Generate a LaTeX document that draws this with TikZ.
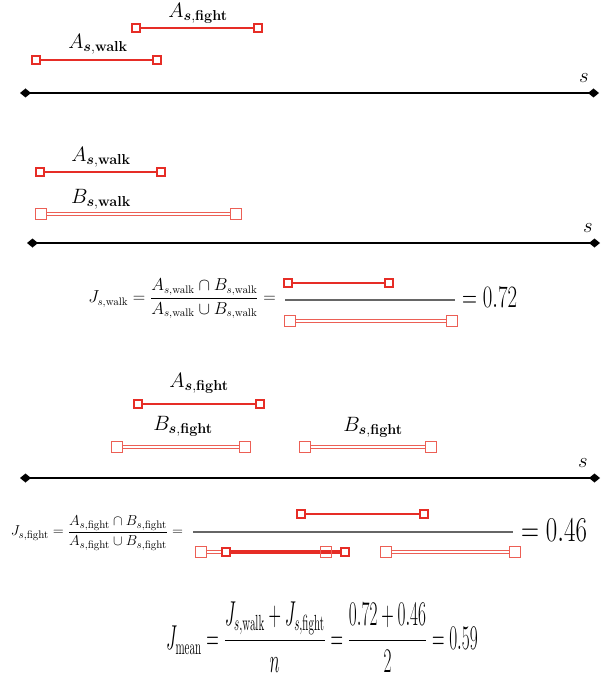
\documentclass[tikz,border=0pt]{standalone}
\usepackage{amsmath}
\usetikzlibrary{arrows.meta}
\definecolor{segred}{RGB}{230,45,38}
\definecolor{bred}{RGB}{236,95,85}
\newcommand{\lab}[2]{$#1_{\boldsymbol{s},\mathbf{#2}}$}
\tikzset{
  asq/.style={rectangle, draw=segred, fill=white, line width=1.8pt, minimum size=8.5pt, inner sep=0pt},
  bsq/.style={rectangle, draw=bred, fill=white, line width=1pt, minimum size=11pt, inner sep=0pt},
  aseg/.style={draw=segred, line width=2pt},
  aunion/.style={draw=segred, line width=3.2pt},
  bseg/.style={draw=bred, line width=1pt, double=white, double distance=2.2pt},
  axisline/.style={draw=black, line width=2.2pt, {Diamond[length=11pt,width=9pt]}-{Diamond[length=11pt,width=9pt]}},
  fracline/.style={draw=black!60, line width=1.2pt},
  lbl/.style={inner sep=0pt, font=\fontsize{22.5}{26}\selectfont},
  slbl/.style={inner sep=0pt, font=\fontsize{22}{24}\selectfont},
  fm/.style={inner sep=0pt, font=\fontsize{16}{19}\selectfont},
  bigeq/.style={inner sep=0pt, anchor=base west},
}
\begin{document}
\begin{tikzpicture}[x=1pt,y=-1pt]
\useasboundingbox (0,0) rectangle (603,687);
% ---------- panel 1
\node[lbl] (lAf1) at (198,13.5) {\lab{A}{fight}};
\node[asq] (af1a) at (136,28) {};
\node[asq] (af1b) at (258,28) {};
\draw[aseg] (af1a) -- (af1b);
\node[lbl] (lAw1) at (98,44) {\lab{A}{walk}};
\node[asq] (aw1a) at (36,60) {};
\node[asq] (aw1b) at (157,60) {};
\draw[aseg] (aw1a) -- (aw1b);
\coordinate (ax1l) at (20,93);
\coordinate (ax1r) at (599,93);
\draw[axisline] (ax1l) -- (ax1r);
\node[slbl] (s1) at (584,78) {$s$};
% ---------- panel 2
\node[lbl] (lAw2) at (101,157) {\lab{A}{walk}};
\node[asq] (aw2a) at (40,172) {};
\node[asq] (aw2b) at (161,172) {};
\draw[aseg] (aw2a) -- (aw2b);
\node[lbl] (lBw2) at (101,199) {\lab{B}{walk}};
\node[bsq] (bw2a) at (41,214) {};
\node[bsq] (bw2b) at (236,214) {};
\draw[bseg] (bw2a) -- (bw2b);
\coordinate (ax2l) at (27,243);
\coordinate (ax2r) at (600,243);
\draw[axisline] (ax2l) -- (ax2r);
\node[slbl] (s2) at (588,228) {$s$};
% ---------- formula 1
\node[fm] (fm1) at (182,299) {$J_{s,\mathrm{walk}} = \dfrac{A_{s,\mathrm{walk}} \cap B_{s,\mathrm{walk}}}{A_{s,\mathrm{walk}} \cup B_{s,\mathrm{walk}}} =$};
\node[asq] (f1aa) at (288,283) {};
\node[asq] (f1ab) at (389,283) {};
\draw[aseg] (f1aa) -- (f1ab);
\coordinate (f1l) at (285,300);
\coordinate (f1r) at (455,300);
\draw[fracline] (f1l) -- (f1r);
\node[bsq] (f1ba) at (290,321) {};
\node[bsq] (f1bb) at (452,321) {};
\draw[bseg] (f1ba) -- (f1bb);
\node[bigeq, font=\fontsize{20}{24}\selectfont] (eq1) at (462,307) {\scalebox{1}[1.5]{$=0.72$}};
% ---------- panel 3
\node[lbl] (lAf3) at (199,383) {\lab{A}{fight}};
\node[asq] (af3a) at (138,404) {};
\node[asq] (af3b) at (260,404) {};
\draw[aseg] (af3a) -- (af3b);
\node[lbl] (lBf3a) at (183,426) {\lab{B}{fight}};
\node[lbl] (lBf3b) at (373,427) {\lab{B}{fight}};
\node[bsq] (bf3a) at (117,447) {};
\node[bsq] (bf3b) at (245,447) {};
\draw[bseg] (bf3a) -- (bf3b);
\node[bsq] (bf3c) at (305,447) {};
\node[bsq] (bf3d) at (431,447) {};
\draw[bseg] (bf3c) -- (bf3d);
\coordinate (ax3l) at (20,478);
\coordinate (ax3r) at (600,478);
\draw[axisline] (ax3l) -- (ax3r);
\node[slbl] (s3) at (583,463) {$s$};
% ---------- formula 2
\node[fm, font=\fontsize{15.6}{18}\selectfont] (fm2) at (97,533) {$J_{s,\mathrm{fight}} = \dfrac{A_{s,\mathrm{fight}} \cap B_{s,\mathrm{fight}}}{A_{s,\mathrm{fight}} \cup B_{s,\mathrm{fight}}} =$};
\node[asq] (f2aa) at (301,514) {};
\node[asq] (f2ab) at (424,514) {};
\draw[aseg] (f2aa) -- (f2ab);
\coordinate (f2l) at (193,532);
\coordinate (f2r) at (513,532);
\draw[fracline] (f2l) -- (f2r);
\coordinate (f2ua) at (226,552);
\coordinate (f2ub) at (345,552);
\node[bsq] (f2ba) at (201,552) {};
\node[bsq] (f2bb) at (326,552) {};
\draw[bseg] (f2ba) -- (f2bb);
\draw[aunion] (f2ua) -- (f2ub);
\node[bsq, fill=none] (f2bb2) at (326,552) {};
\node[asq] (f2ua2) at (226,552) {};
\node[asq] (f2ub2) at (345,552) {};
\node[bsq] (f2bc) at (386,552) {};
\node[bsq] (f2bd) at (515,552) {};
\draw[bseg] (f2bc) -- (f2bd);
\node[bigeq, font=\fontsize{26}{30}\selectfont] (eq2) at (521,541) {\scalebox{1}[1.4]{$=0.46$}};
% ---------- final formula
\node[inner sep=0pt, anchor=base, font=\fontsize{16}{20}\selectfont] (fin) at (322,649) {\scalebox{1}[2]{$J_{\mathrm{mean}} = \dfrac{J_{s,\mathrm{walk}} + J_{s,\mathrm{fight}}}{n} = \dfrac{0.72+0.46}{2} = 0.59$}};
\end{tikzpicture}
\end{document}
